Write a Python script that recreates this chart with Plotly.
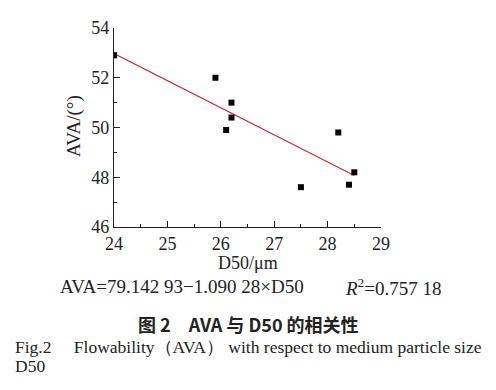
import plotly.graph_objects as go

# Data
d50 = [24.0, 25.9, 26.2, 26.2, 26.1, 27.5, 28.2, 28.4, 28.5]
ava = [52.9, 52.0, 51.0, 50.4, 49.9, 47.6, 49.8, 47.7, 48.2]

# Regression line coefficients (as printed on the chart)
intercept = 79.14293
slope = -1.09028
fit_x = [24.0, 28.5]
fit_y = [intercept + slope * x for x in fit_x]

x_ticks = [24, 25, 26, 27, 28, 29]
y_ticks = [46, 48, 50, 52, 54]

OFF = 8  # browser body margin
W, H = 496 - OFF, 390 - OFF
L, R, T, B = 114 - OFF, 381 - OFF, 18 - OFF, 227 - OFF
SERIF = "Liberation Serif"


def px(x):
    return (x - OFF - L) / (R - L)


def py(y):
    return (B - (y - OFF)) / (B - T)


fig = go.Figure()
fig.add_trace(go.Scatter(x=fit_x, y=fit_y, mode="lines",
                         line=dict(color="rgb(200,45,50)", width=1.2),
                         showlegend=False))
fig.add_trace(go.Scatter(x=d50, y=ava, mode="markers",
                         marker=dict(symbol="square", size=6, color="black"),
                         showlegend=False))

axis_common = dict(showline=True, linecolor="#222", linewidth=1.3,
                   ticks="inside", ticklen=6, tickcolor="#222", tickwidth=1.2,
                   showgrid=False, zeroline=False,
                   tickfont=dict(family=SERIF, size=18, color="#222"),
                   mirror=False)

fig.update_layout(
    width=W, height=H,
    margin=dict(l=L, r=W - R, t=T, b=H - B, pad=0),
    paper_bgcolor="white", plot_bgcolor="white",
    font=dict(family=SERIF, color="#222"),
    xaxis=dict(range=[24, 29], tickvals=x_ticks, ticktext=[str(v) for v in x_ticks],
               minor=dict(dtick=0.5, ticks="inside", ticklen=3, tickcolor="#222"),
               **axis_common),
    yaxis=dict(range=[46, 54], tickvals=y_ticks, ticktext=[str(v) for v in y_ticks],
               minor=dict(dtick=1, ticks="inside", ticklen=3, tickcolor="#222"),
               **axis_common),
)

ann = [
    dict(text="AVA/(°)", x=px(74), y=py(121), textangle=-90, size=19),
    dict(text="D50/μm", x=px(248), y=py(265), size=18),
    dict(text="AVA=79.142 93−1.090 28×D50", x=px(182), y=py(290), size=19),
    dict(text="<i>R</i><sup>2</sup>=0.757 18", x=px(393), y=py(290), size=19),
]
for a in ann:
    fig.add_annotation(text=a["text"], xref="paper", yref="paper",
                       x=a["x"], y=a["y"], xanchor="center", yanchor="middle",
                       showarrow=False, textangle=a.get("textangle", 0),
                       font=dict(family=SERIF, size=a["size"], color="#222"))

fig.add_annotation(text="<b>图 2　AVA 与 D50 的相关性</b>", xref="paper", yref="paper",
                   x=px(248), y=py(329), xanchor="center", yanchor="middle",
                   showarrow=False,
                   font=dict(family="Noto Sans CJK SC", size=18, color="#222"))
fig.add_annotation(text="Fig.2　 Flowability（AVA） with respect to medium particle size",
                   xref="paper", yref="paper", x=px(13), y=py(353),
                   xanchor="left", yanchor="middle",
                   showarrow=False, font=dict(family=SERIF, size=17.5, color="#222"))
fig.add_annotation(text="D50", xref="paper", yref="paper", x=px(13), y=py(373),
                   xanchor="left", yanchor="middle", showarrow=False,
                   font=dict(family=SERIF, size=17.5, color="#222"))

fig.write_html("out.html")
